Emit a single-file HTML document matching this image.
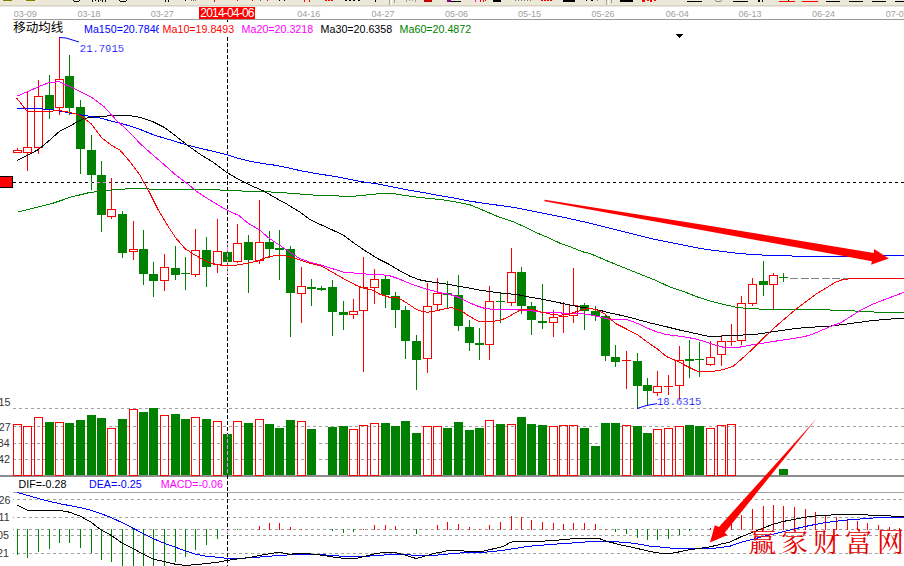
<!DOCTYPE html>
<html><head><meta charset="utf-8"><title>chart</title>
<style>html,body{margin:0;padding:0;background:#fff;}body{width:904px;height:566px;overflow:hidden;position:relative;font-family:"Liberation Sans",sans-serif;}svg{position:absolute;left:0;top:0;display:block}.t{position:absolute;white-space:nowrap;line-height:1;}.d{font-size:9px;color:#a0a0a0;top:9.5px}.m{font-size:10.7px;top:23.5px;overflow:hidden;}.k{font-size:10.7px;top:479px}.p{font-family:"Liberation Mono",monospace;font-size:10.55px;color:#0000ff;transform:scaleY(1.06);transform-origin:0 50%;-webkit-text-stroke:0.15px #fff}.a{font-size:10.7px;color:#333;left:0}</style></head><body>
<svg width="904" height="566" viewBox="0 0 904 566">
<rect x="0" y="0" width="904" height="5" fill="#ece9d8"/>
<rect x="0" y="5" width="904" height="1.5" fill="#d6d2c2"/>
<g shape-rendering="crispEdges">
<rect x="13" y="19" width="891" height="1" fill="#9a9a9a"/>
<line x1="13" y1="408.5" x2="904" y2="408.5" stroke="#a0a0a0" stroke-width="1" stroke-dasharray="3 3"/>
<line x1="13" y1="426.5" x2="904" y2="426.5" stroke="#a0a0a0" stroke-width="1" stroke-dasharray="3 3"/>
<line x1="13" y1="443.5" x2="904" y2="443.5" stroke="#a0a0a0" stroke-width="1" stroke-dasharray="3 3"/>
<line x1="13" y1="459.5" x2="904" y2="459.5" stroke="#a0a0a0" stroke-width="1" stroke-dasharray="3 3"/>
<line x1="13" y1="499.5" x2="904" y2="499.5" stroke="#a0a0a0" stroke-width="1" stroke-dasharray="3 3" stroke-dashoffset="2"/>
<line x1="13" y1="517.5" x2="904" y2="517.5" stroke="#a0a0a0" stroke-width="1" stroke-dasharray="3 3" stroke-dashoffset="2"/>
<line x1="13" y1="529.5" x2="904" y2="529.5" stroke="#a0a0a0" stroke-width="1" stroke-dasharray="3 3" stroke-dashoffset="2"/>
<line x1="13" y1="535.5" x2="904" y2="535.5" stroke="#a0a0a0" stroke-width="1" stroke-dasharray="3 3" stroke-dashoffset="2"/>
<line x1="13" y1="553.5" x2="904" y2="553.5" stroke="#a0a0a0" stroke-width="1" stroke-dasharray="3 3" stroke-dashoffset="2"/>
<rect x="0" y="475" width="904" height="2" fill="#8c8c8c"/>
<rect x="13" y="492" width="891" height="1" fill="#a0a0a0"/>
<line x1="13" y1="182.5" x2="904" y2="182.5" stroke="#000" stroke-width="1" stroke-dasharray="3 3"/>
<rect x="-1.5" y="176.5" width="14" height="11" fill="#ff0000" stroke="#000" stroke-width="1"/>
<rect x="199" y="7" width="56" height="12" fill="#ff0000"/>
<rect x="13.5" y="424.5" width="8" height="51" fill="none" stroke="#ff0000" stroke-width="1"/>
<rect x="23.5" y="426.5" width="8" height="49" fill="none" stroke="#ff0000" stroke-width="1"/>
<rect x="34.5" y="417.5" width="8" height="58" fill="none" stroke="#ff0000" stroke-width="1"/>
<rect x="45" y="422" width="9" height="53" fill="#008000"/>
<rect x="55.5" y="422.5" width="8" height="53" fill="none" stroke="#ff0000" stroke-width="1"/>
<rect x="65" y="423" width="9" height="52" fill="#008000"/>
<rect x="76" y="420" width="9" height="55" fill="#008000"/>
<rect x="87" y="415" width="9" height="60" fill="#008000"/>
<rect x="97" y="418" width="9" height="57" fill="#008000"/>
<rect x="107.5" y="428.5" width="8" height="47" fill="none" stroke="#ff0000" stroke-width="1"/>
<rect x="118" y="419" width="9" height="56" fill="#008000"/>
<rect x="129.5" y="409.5" width="8" height="66" fill="none" stroke="#ff0000" stroke-width="1"/>
<rect x="139" y="412" width="9" height="63" fill="#008000"/>
<rect x="149" y="408" width="9" height="67" fill="#008000"/>
<rect x="160.5" y="415.5" width="8" height="60" fill="none" stroke="#ff0000" stroke-width="1"/>
<rect x="171" y="414" width="9" height="61" fill="#008000"/>
<rect x="181" y="419" width="9" height="56" fill="#008000"/>
<rect x="191.5" y="417.5" width="8" height="58" fill="none" stroke="#ff0000" stroke-width="1"/>
<rect x="202" y="419" width="9" height="56" fill="#008000"/>
<rect x="213.5" y="421.5" width="8" height="54" fill="none" stroke="#ff0000" stroke-width="1"/>
<rect x="223" y="434" width="9" height="41" fill="#008000"/>
<rect x="233.5" y="421.5" width="8" height="54" fill="none" stroke="#ff0000" stroke-width="1"/>
<rect x="244" y="423" width="9" height="52" fill="#008000"/>
<rect x="255.5" y="419.5" width="8" height="56" fill="none" stroke="#ff0000" stroke-width="1"/>
<rect x="265" y="424" width="9" height="51" fill="#008000"/>
<rect x="275" y="428" width="9" height="47" fill="#008000"/>
<rect x="286" y="420" width="9" height="55" fill="#008000"/>
<rect x="297.5" y="421.5" width="8" height="54" fill="none" stroke="#ff0000" stroke-width="1"/>
<rect x="307" y="429" width="9" height="46" fill="#008000"/>
<rect x="328" y="427" width="9" height="48" fill="#008000"/>
<rect x="339" y="426" width="9" height="49" fill="#008000"/>
<rect x="349.5" y="429.5" width="8" height="46" fill="none" stroke="#ff0000" stroke-width="1"/>
<rect x="359.5" y="425.5" width="8" height="50" fill="none" stroke="#ff0000" stroke-width="1"/>
<rect x="370.5" y="423.5" width="8" height="52" fill="none" stroke="#ff0000" stroke-width="1"/>
<rect x="381" y="423" width="9" height="52" fill="#008000"/>
<rect x="391" y="426" width="9" height="49" fill="#008000"/>
<rect x="401" y="421" width="9" height="54" fill="#008000"/>
<rect x="412" y="433" width="9" height="42" fill="#008000"/>
<rect x="423.5" y="426.5" width="8" height="49" fill="none" stroke="#ff0000" stroke-width="1"/>
<rect x="433.5" y="426.5" width="8" height="49" fill="none" stroke="#ff0000" stroke-width="1"/>
<rect x="443" y="428" width="9" height="47" fill="#008000"/>
<rect x="454" y="422" width="9" height="53" fill="#008000"/>
<rect x="465" y="430" width="9" height="45" fill="#008000"/>
<rect x="475" y="428" width="9" height="47" fill="#008000"/>
<rect x="485.5" y="420.5" width="8" height="55" fill="none" stroke="#ff0000" stroke-width="1"/>
<rect x="496" y="424" width="9" height="51" fill="#008000"/>
<rect x="507.5" y="424.5" width="8" height="51" fill="none" stroke="#ff0000" stroke-width="1"/>
<rect x="517" y="417" width="9" height="58" fill="#008000"/>
<rect x="527" y="424" width="9" height="51" fill="#008000"/>
<rect x="538" y="425" width="9" height="50" fill="#008000"/>
<rect x="549.5" y="426.5" width="8" height="49" fill="none" stroke="#ff0000" stroke-width="1"/>
<rect x="559.5" y="425.5" width="8" height="50" fill="none" stroke="#ff0000" stroke-width="1"/>
<rect x="569.5" y="425.5" width="8" height="50" fill="none" stroke="#ff0000" stroke-width="1"/>
<rect x="580" y="428" width="9" height="47" fill="#008000"/>
<rect x="591" y="446" width="9" height="29" fill="#008000"/>
<rect x="601" y="423" width="9" height="52" fill="#008000"/>
<rect x="611" y="423" width="9" height="52" fill="#008000"/>
<rect x="622.5" y="425.5" width="8" height="50" fill="none" stroke="#ff0000" stroke-width="1"/>
<rect x="633" y="426" width="9" height="49" fill="#008000"/>
<rect x="643" y="433" width="9" height="42" fill="#008000"/>
<rect x="653.5" y="429.5" width="8" height="46" fill="none" stroke="#ff0000" stroke-width="1"/>
<rect x="664.5" y="428.5" width="8" height="47" fill="none" stroke="#ff0000" stroke-width="1"/>
<rect x="675.5" y="426.5" width="8" height="49" fill="none" stroke="#ff0000" stroke-width="1"/>
<rect x="685" y="425" width="9" height="50" fill="#008000"/>
<rect x="695" y="426" width="9" height="49" fill="#008000"/>
<rect x="706.5" y="428.5" width="8" height="47" fill="none" stroke="#ff0000" stroke-width="1"/>
<rect x="717.5" y="425.5" width="8" height="50" fill="none" stroke="#ff0000" stroke-width="1"/>
<rect x="727.5" y="424.5" width="8" height="51" fill="none" stroke="#ff0000" stroke-width="1"/>
<rect x="779" y="469" width="9" height="6" fill="#008000"/>
<rect x="17" y="529" width="1" height="26" fill="#008000"/>
<rect x="27" y="529" width="1" height="29" fill="#008000"/>
<rect x="38" y="529" width="1" height="23" fill="#008000"/>
<rect x="49" y="529" width="1" height="20" fill="#008000"/>
<rect x="59" y="529" width="1" height="14" fill="#008000"/>
<rect x="69" y="529" width="1" height="14" fill="#008000"/>
<rect x="80" y="529" width="1" height="19" fill="#008000"/>
<rect x="91" y="529" width="1" height="24" fill="#008000"/>
<rect x="101" y="529" width="1" height="31" fill="#008000"/>
<rect x="111" y="529" width="1" height="33" fill="#008000"/>
<rect x="122" y="529" width="1" height="37" fill="#008000"/>
<rect x="133" y="529" width="1" height="37" fill="#008000"/>
<rect x="143" y="529" width="1" height="37" fill="#008000"/>
<rect x="153" y="529" width="1" height="37" fill="#008000"/>
<rect x="164" y="529" width="1" height="37" fill="#008000"/>
<rect x="175" y="529" width="1" height="33" fill="#008000"/>
<rect x="185" y="529" width="1" height="28" fill="#008000"/>
<rect x="195" y="529" width="1" height="21" fill="#008000"/>
<rect x="206" y="529" width="1" height="16" fill="#008000"/>
<rect x="217" y="529" width="1" height="10" fill="#008000"/>
<rect x="227" y="529" width="1" height="5" fill="#008000"/>
<rect x="237" y="529" width="1" height="1" fill="#008000"/>
<rect x="259" y="526" width="1" height="4" fill="#ff0000"/>
<rect x="269" y="523" width="1" height="7" fill="#ff0000"/>
<rect x="279" y="523" width="1" height="7" fill="#ff0000"/>
<rect x="290" y="527" width="1" height="3" fill="#ff0000"/>
<rect x="301" y="529" width="1" height="1" fill="#ff0000"/>
<rect x="332" y="529" width="1" height="2" fill="#008000"/>
<rect x="343" y="529" width="1" height="4" fill="#008000"/>
<rect x="353" y="529" width="1" height="3" fill="#008000"/>
<rect x="363" y="529" width="1" height="1" fill="#ff0000"/>
<rect x="374" y="525" width="1" height="5" fill="#ff0000"/>
<rect x="385" y="525" width="1" height="5" fill="#ff0000"/>
<rect x="395" y="526" width="1" height="4" fill="#ff0000"/>
<rect x="416" y="529" width="1" height="5" fill="#008000"/>
<rect x="437" y="525" width="1" height="5" fill="#ff0000"/>
<rect x="447" y="522" width="1" height="8" fill="#ff0000"/>
<rect x="458" y="524" width="1" height="6" fill="#ff0000"/>
<rect x="469" y="527" width="1" height="3" fill="#ff0000"/>
<rect x="479" y="529" width="1" height="1" fill="#ff0000"/>
<rect x="489" y="525" width="1" height="5" fill="#ff0000"/>
<rect x="500" y="522" width="1" height="8" fill="#ff0000"/>
<rect x="511" y="516" width="1" height="14" fill="#ff0000"/>
<rect x="521" y="517" width="1" height="13" fill="#ff0000"/>
<rect x="531" y="520" width="1" height="10" fill="#ff0000"/>
<rect x="542" y="522" width="1" height="8" fill="#ff0000"/>
<rect x="553" y="523" width="1" height="7" fill="#ff0000"/>
<rect x="563" y="524" width="1" height="6" fill="#ff0000"/>
<rect x="573" y="523" width="1" height="7" fill="#ff0000"/>
<rect x="584" y="523" width="1" height="7" fill="#ff0000"/>
<rect x="595" y="524" width="1" height="6" fill="#ff0000"/>
<rect x="605" y="529" width="1" height="1" fill="#ff0000"/>
<rect x="615" y="529" width="1" height="3" fill="#008000"/>
<rect x="626" y="529" width="1" height="5" fill="#008000"/>
<rect x="637" y="529" width="1" height="9" fill="#008000"/>
<rect x="647" y="529" width="1" height="11" fill="#008000"/>
<rect x="657" y="529" width="1" height="11" fill="#008000"/>
<rect x="668" y="529" width="1" height="10" fill="#008000"/>
<rect x="679" y="529" width="1" height="6" fill="#008000"/>
<rect x="689" y="529" width="1" height="2" fill="#008000"/>
<rect x="710" y="528" width="1" height="2" fill="#ff0000"/>
<rect x="721" y="524" width="1" height="6" fill="#ff0000"/>
<rect x="731" y="520" width="1" height="10" fill="#ff0000"/>
<rect x="741" y="515" width="1" height="15" fill="#ff0000"/>
<rect x="752" y="509" width="1" height="21" fill="#ff0000"/>
<rect x="763" y="506" width="1" height="24" fill="#ff0000"/>
<rect x="773" y="505" width="1" height="25" fill="#ff0000"/>
<rect x="783" y="506" width="1" height="24" fill="#ff0000"/>
<rect x="794" y="507" width="1" height="23" fill="#ff0000"/>
<rect x="805" y="509" width="1" height="21" fill="#ff0000"/>
<rect x="815" y="512" width="1" height="18" fill="#ff0000"/>
<rect x="825" y="515" width="1" height="15" fill="#ff0000"/>
<rect x="836" y="517" width="1" height="13" fill="#ff0000"/>
<rect x="847" y="519" width="1" height="11" fill="#ff0000"/>
<rect x="857" y="521" width="1" height="9" fill="#ff0000"/>
<rect x="867" y="523" width="1" height="7" fill="#ff0000"/>
<rect x="878" y="525" width="1" height="5" fill="#ff0000"/>
<rect x="889" y="527" width="1" height="3" fill="#ff0000"/>
<rect x="899" y="528" width="1" height="2" fill="#ff0000"/>
</g>
<g shape-rendering="crispEdges">
<rect x="17" y="148" width="1" height="2" fill="#ff0000"/>
<rect x="13.5" y="150.5" width="8" height="2" fill="#fff" stroke="#ff0000" stroke-width="1"/>
<rect x="27" y="92" width="1" height="55" fill="#ff0000"/>
<rect x="27" y="153" width="1" height="18" fill="#ff0000"/>
<rect x="23.5" y="147.5" width="8" height="5" fill="#fff" stroke="#ff0000" stroke-width="1"/>
<rect x="38" y="80" width="1" height="16" fill="#ff0000"/>
<rect x="38" y="148" width="1" height="6" fill="#ff0000"/>
<rect x="34.5" y="96.5" width="8" height="51" fill="#fff" stroke="#ff0000" stroke-width="1"/>
<rect x="49" y="75" width="1" height="44" fill="#008000"/>
<rect x="45" y="95" width="9" height="15" fill="#008000"/>
<rect x="59" y="37" width="1" height="42" fill="#ff0000"/>
<rect x="59" y="108" width="1" height="7" fill="#ff0000"/>
<rect x="55.5" y="79.5" width="8" height="28" fill="#fff" stroke="#ff0000" stroke-width="1"/>
<rect x="69" y="55" width="1" height="60" fill="#008000"/>
<rect x="65" y="76" width="9" height="32" fill="#008000"/>
<rect x="80" y="100" width="1" height="74" fill="#008000"/>
<rect x="76" y="107" width="9" height="42" fill="#008000"/>
<rect x="91" y="135" width="1" height="55" fill="#008000"/>
<rect x="87" y="150" width="9" height="25" fill="#008000"/>
<rect x="101" y="161" width="1" height="71" fill="#008000"/>
<rect x="97" y="175" width="9" height="40" fill="#008000"/>
<rect x="111" y="178" width="1" height="31" fill="#ff0000"/>
<rect x="111" y="217" width="1" height="2" fill="#ff0000"/>
<rect x="107.5" y="209.5" width="8" height="7" fill="#fff" stroke="#ff0000" stroke-width="1"/>
<rect x="122" y="211" width="1" height="47" fill="#008000"/>
<rect x="118" y="214" width="9" height="39" fill="#008000"/>
<rect x="133" y="221" width="1" height="28" fill="#ff0000"/>
<rect x="133" y="252" width="1" height="8" fill="#ff0000"/>
<rect x="129.5" y="249.5" width="8" height="2" fill="#fff" stroke="#ff0000" stroke-width="1"/>
<rect x="143" y="230" width="1" height="55" fill="#008000"/>
<rect x="139" y="249" width="9" height="25" fill="#008000"/>
<rect x="153" y="262" width="1" height="35" fill="#008000"/>
<rect x="149" y="274" width="9" height="7" fill="#008000"/>
<rect x="164" y="254" width="1" height="13" fill="#ff0000"/>
<rect x="164" y="281" width="1" height="10" fill="#ff0000"/>
<rect x="160.5" y="267.5" width="8" height="13" fill="#fff" stroke="#ff0000" stroke-width="1"/>
<rect x="175" y="246" width="1" height="34" fill="#008000"/>
<rect x="171" y="268" width="9" height="7" fill="#008000"/>
<rect x="185" y="257" width="1" height="33" fill="#008000"/>
<rect x="181" y="273" width="9" height="1" fill="#008000"/>
<rect x="195" y="229" width="1" height="21" fill="#ff0000"/>
<rect x="195" y="275" width="1" height="2" fill="#ff0000"/>
<rect x="191.5" y="250.5" width="8" height="24" fill="#fff" stroke="#ff0000" stroke-width="1"/>
<rect x="206" y="237" width="1" height="50" fill="#008000"/>
<rect x="202" y="250" width="9" height="17" fill="#008000"/>
<rect x="217" y="219" width="1" height="32" fill="#ff0000"/>
<rect x="217" y="265" width="1" height="8" fill="#ff0000"/>
<rect x="213.5" y="251.5" width="8" height="13" fill="#fff" stroke="#ff0000" stroke-width="1"/>
<rect x="227" y="243" width="1" height="31" fill="#008000"/>
<rect x="223" y="252" width="9" height="10" fill="#008000"/>
<rect x="237" y="224" width="1" height="19" fill="#ff0000"/>
<rect x="237" y="262" width="1" height="1" fill="#ff0000"/>
<rect x="233.5" y="243.5" width="8" height="18" fill="#fff" stroke="#ff0000" stroke-width="1"/>
<rect x="248" y="235" width="1" height="58" fill="#008000"/>
<rect x="244" y="242" width="9" height="18" fill="#008000"/>
<rect x="259" y="200" width="1" height="42" fill="#ff0000"/>
<rect x="259" y="261" width="1" height="3" fill="#ff0000"/>
<rect x="255.5" y="242.5" width="8" height="18" fill="#fff" stroke="#ff0000" stroke-width="1"/>
<rect x="269" y="231" width="1" height="27" fill="#008000"/>
<rect x="265" y="242" width="9" height="7" fill="#008000"/>
<rect x="279" y="230" width="1" height="50" fill="#008000"/>
<rect x="275" y="248" width="9" height="2" fill="#008000"/>
<rect x="290" y="246" width="1" height="91" fill="#008000"/>
<rect x="286" y="249" width="9" height="44" fill="#008000"/>
<rect x="301" y="267" width="1" height="19" fill="#ff0000"/>
<rect x="301" y="294" width="1" height="29" fill="#ff0000"/>
<rect x="297.5" y="286.5" width="8" height="7" fill="#fff" stroke="#ff0000" stroke-width="1"/>
<rect x="311" y="279" width="1" height="27" fill="#008000"/>
<rect x="307" y="287" width="9" height="2" fill="#008000"/>
<rect x="321" y="286" width="1" height="5" fill="#008000"/>
<rect x="317" y="288" width="9" height="2" fill="#008000"/>
<rect x="332" y="280" width="1" height="56" fill="#008000"/>
<rect x="328" y="287" width="9" height="25" fill="#008000"/>
<rect x="343" y="301" width="1" height="29" fill="#008000"/>
<rect x="339" y="312" width="9" height="3" fill="#008000"/>
<rect x="353" y="299" width="1" height="12" fill="#ff0000"/>
<rect x="353" y="315" width="1" height="4" fill="#ff0000"/>
<rect x="349.5" y="311.5" width="8" height="3" fill="#fff" stroke="#ff0000" stroke-width="1"/>
<rect x="363" y="257" width="1" height="30" fill="#ff0000"/>
<rect x="363" y="311" width="1" height="61" fill="#ff0000"/>
<rect x="359.5" y="287.5" width="8" height="23" fill="#fff" stroke="#ff0000" stroke-width="1"/>
<rect x="374" y="269" width="1" height="10" fill="#ff0000"/>
<rect x="374" y="288" width="1" height="16" fill="#ff0000"/>
<rect x="370.5" y="279.5" width="8" height="8" fill="#fff" stroke="#ff0000" stroke-width="1"/>
<rect x="385" y="276" width="1" height="32" fill="#008000"/>
<rect x="381" y="279" width="9" height="16" fill="#008000"/>
<rect x="395" y="292" width="1" height="36" fill="#008000"/>
<rect x="391" y="296" width="9" height="14" fill="#008000"/>
<rect x="405" y="306" width="1" height="53" fill="#008000"/>
<rect x="401" y="310" width="9" height="31" fill="#008000"/>
<rect x="416" y="335" width="1" height="55" fill="#008000"/>
<rect x="412" y="341" width="9" height="19" fill="#008000"/>
<rect x="427" y="283" width="1" height="23" fill="#ff0000"/>
<rect x="427" y="359" width="1" height="14" fill="#ff0000"/>
<rect x="423.5" y="306.5" width="8" height="52" fill="#fff" stroke="#ff0000" stroke-width="1"/>
<rect x="437" y="278" width="1" height="15" fill="#ff0000"/>
<rect x="437" y="305" width="1" height="6" fill="#ff0000"/>
<rect x="433.5" y="293.5" width="8" height="11" fill="#fff" stroke="#ff0000" stroke-width="1"/>
<rect x="447" y="281" width="1" height="28" fill="#008000"/>
<rect x="443" y="293" width="9" height="2" fill="#008000"/>
<rect x="458" y="275" width="1" height="56" fill="#008000"/>
<rect x="454" y="295" width="9" height="31" fill="#008000"/>
<rect x="469" y="320" width="1" height="31" fill="#008000"/>
<rect x="465" y="327" width="9" height="16" fill="#008000"/>
<rect x="479" y="328" width="1" height="32" fill="#008000"/>
<rect x="475" y="343" width="9" height="2" fill="#008000"/>
<rect x="489" y="286" width="1" height="15" fill="#ff0000"/>
<rect x="489" y="345" width="1" height="15" fill="#ff0000"/>
<rect x="485.5" y="301.5" width="8" height="43" fill="#fff" stroke="#ff0000" stroke-width="1"/>
<rect x="500" y="292" width="1" height="31" fill="#008000"/>
<rect x="496" y="301" width="9" height="1" fill="#008000"/>
<rect x="511" y="248" width="1" height="24" fill="#ff0000"/>
<rect x="511" y="303" width="1" height="3" fill="#ff0000"/>
<rect x="507.5" y="272.5" width="8" height="30" fill="#fff" stroke="#ff0000" stroke-width="1"/>
<rect x="521" y="267" width="1" height="47" fill="#008000"/>
<rect x="517" y="272" width="9" height="34" fill="#008000"/>
<rect x="531" y="302" width="1" height="33" fill="#008000"/>
<rect x="527" y="306" width="9" height="14" fill="#008000"/>
<rect x="542" y="284" width="1" height="45" fill="#008000"/>
<rect x="538" y="321" width="9" height="2" fill="#008000"/>
<rect x="553" y="310" width="1" height="7" fill="#ff0000"/>
<rect x="553" y="323" width="1" height="14" fill="#ff0000"/>
<rect x="549.5" y="317.5" width="8" height="5" fill="#fff" stroke="#ff0000" stroke-width="1"/>
<rect x="563" y="302" width="1" height="14" fill="#ff0000"/>
<rect x="563" y="317" width="1" height="16" fill="#ff0000"/>
<rect x="559" y="316" width="9" height="1" fill="#ff0000"/>
<rect x="573" y="268" width="1" height="37" fill="#ff0000"/>
<rect x="573" y="316" width="1" height="7" fill="#ff0000"/>
<rect x="569.5" y="305.5" width="8" height="10" fill="#fff" stroke="#ff0000" stroke-width="1"/>
<rect x="584" y="303" width="1" height="27" fill="#008000"/>
<rect x="580" y="305" width="9" height="6" fill="#008000"/>
<rect x="595" y="306" width="1" height="15" fill="#008000"/>
<rect x="591" y="311" width="9" height="5" fill="#008000"/>
<rect x="605" y="314" width="1" height="47" fill="#008000"/>
<rect x="601" y="316" width="9" height="40" fill="#008000"/>
<rect x="615" y="345" width="1" height="22" fill="#008000"/>
<rect x="611" y="357" width="9" height="5" fill="#008000"/>
<rect x="626" y="351" width="1" height="9" fill="#ff0000"/>
<rect x="626" y="360" width="1" height="29" fill="#ff0000"/>
<rect x="622" y="360" width="9" height="1" fill="#ff0000"/>
<rect x="637" y="353" width="1" height="56" fill="#008000"/>
<rect x="633" y="361" width="9" height="25" fill="#008000"/>
<rect x="647" y="378" width="1" height="28" fill="#008000"/>
<rect x="643" y="385" width="9" height="6" fill="#008000"/>
<rect x="657" y="371" width="1" height="15" fill="#ff0000"/>
<rect x="657" y="393" width="1" height="3" fill="#ff0000"/>
<rect x="653.5" y="386.5" width="8" height="6" fill="#fff" stroke="#ff0000" stroke-width="1"/>
<rect x="668" y="375" width="1" height="11" fill="#ff0000"/>
<rect x="668" y="386" width="1" height="9" fill="#ff0000"/>
<rect x="664" y="386" width="9" height="1" fill="#ff0000"/>
<rect x="679" y="346" width="1" height="14" fill="#ff0000"/>
<rect x="679" y="386" width="1" height="15" fill="#ff0000"/>
<rect x="675.5" y="360.5" width="8" height="25" fill="#fff" stroke="#ff0000" stroke-width="1"/>
<rect x="689" y="340" width="1" height="38" fill="#008000"/>
<rect x="685" y="359" width="9" height="2" fill="#008000"/>
<rect x="699" y="342" width="1" height="35" fill="#008000"/>
<rect x="695" y="359" width="9" height="1" fill="#008000"/>
<rect x="710" y="341" width="1" height="16" fill="#ff0000"/>
<rect x="710" y="365" width="1" height="1" fill="#ff0000"/>
<rect x="706.5" y="357.5" width="8" height="7" fill="#fff" stroke="#ff0000" stroke-width="1"/>
<rect x="721" y="335" width="1" height="6" fill="#ff0000"/>
<rect x="721" y="355" width="1" height="11" fill="#ff0000"/>
<rect x="717.5" y="341.5" width="8" height="13" fill="#fff" stroke="#ff0000" stroke-width="1"/>
<rect x="731" y="324" width="1" height="17" fill="#ff0000"/>
<rect x="731" y="342" width="1" height="4" fill="#ff0000"/>
<rect x="727" y="341" width="9" height="1" fill="#ff0000"/>
<rect x="741" y="296" width="1" height="7" fill="#ff0000"/>
<rect x="741" y="341" width="1" height="4" fill="#ff0000"/>
<rect x="737.5" y="303.5" width="8" height="37" fill="#fff" stroke="#ff0000" stroke-width="1"/>
<rect x="752" y="278" width="1" height="6" fill="#ff0000"/>
<rect x="752" y="304" width="1" height="2" fill="#ff0000"/>
<rect x="748.5" y="284.5" width="8" height="19" fill="#fff" stroke="#ff0000" stroke-width="1"/>
<rect x="763" y="261" width="1" height="35" fill="#008000"/>
<rect x="759" y="281" width="9" height="4" fill="#008000"/>
<rect x="773" y="273" width="1" height="2" fill="#ff0000"/>
<rect x="773" y="285" width="1" height="24" fill="#ff0000"/>
<rect x="769.5" y="275.5" width="8" height="9" fill="#fff" stroke="#ff0000" stroke-width="1"/>
<rect x="783" y="273" width="1" height="9" fill="#008000"/>
<rect x="779" y="277" width="9" height="1" fill="#008000"/>
</g>
<defs><clipPath id="cg"><rect x="223" y="252" width="9" height="10"/><rect x="227" y="243" width="1" height="31"/><rect x="223" y="434" width="9" height="41"/><rect x="227" y="530" width="1" height="4"/></clipPath><clipPath id="ch"><rect x="97" y="182" width="9" height="1"/><rect x="91" y="182" width="1" height="1"/></clipPath></defs>
<g shape-rendering="crispEdges"><line x1="227.5" y1="20" x2="227.5" y2="566" stroke="#000" stroke-width="1" stroke-dasharray="3.5 2.5" stroke-dashoffset="1"/>
<line x1="13" y1="182.5" x2="904" y2="182.5" stroke="#ff80ff" stroke-width="1" stroke-dasharray="3 3" clip-path="url(#ch)"/>
<line x1="227.5" y1="20" x2="227.5" y2="566" stroke="#ff80ff" stroke-width="1" stroke-dasharray="3.5 2.5" stroke-dashoffset="1" clip-path="url(#cg)"/></g>
<rect x="227" y="22" width="1" height="14.6" fill="#fff"/>
<line x1="790" y1="278.5" x2="852" y2="278.5" stroke="#808080" stroke-width="1" stroke-dasharray="8 2.5" shape-rendering="crispEdges"/>
<polyline points="17.5,212.2 35.0,207.8 53.0,203.2 70.7,197.2 88.3,192.8 97.2,191.6 110.0,190.2 130.0,188.6 158.0,189.2 176.0,189.5 200.0,189.5 227.0,190.2 245.0,191.2 263.0,191.6 281.0,192.5 305.0,194.4 320.0,195.6 335.0,195.8 350.0,196.5 359.0,195.8 371.0,194.4 383.0,193.5 395.0,193.8 407.0,195.8 419.0,197.4 431.0,198.6 443.0,199.8 455.0,201.8 470.0,204.8 479.0,208.5 488.0,212.4 500.0,217.5 512.0,221.2 524.0,226.5 536.0,232.5 548.0,237.6 560.0,243.2 572.0,247.5 584.0,252.2 590.0,253.5 606.0,260.4 621.8,266.8 637.7,273.2 653.6,279.5 669.5,286.8 685.4,292.2 698.0,297.2 710.9,301.2 723.6,304.4 736.3,307.2 750.0,308.8 766.5,309.2 793.0,309.2 819.5,309.8 846.0,310.3 859.0,311.3 883.0,312.4 904.0,312.4" fill="none" stroke="#008000" stroke-width="1" stroke-linejoin="round" shape-rendering="crispEdges"/>
<polyline points="16.8,108.2 49.5,109.2 80.0,114.8 99.0,117.8 125.0,124.5 140.0,129.4 155.0,135.4 170.0,139.8 185.0,144.4 200.0,148.2 215.0,151.8 227.0,154.8 239.0,158.5 251.0,161.5 263.0,163.6 275.0,165.2 287.0,167.5 300.0,170.6 320.0,174.2 335.0,176.4 350.0,179.4 362.0,181.8 377.0,183.8 392.0,186.8 407.0,189.8 422.0,192.3 437.0,195.2 455.0,198.2 470.0,201.2 485.0,203.4 500.0,205.5 515.0,207.6 530.0,210.6 545.0,213.6 560.0,216.6 575.0,219.8 590.0,223.2 606.0,227.2 621.8,231.2 637.7,235.2 653.6,239.2 669.5,242.3 685.4,245.5 701.3,248.7 717.2,250.8 733.0,252.8 750.0,254.4 766.5,255.2 779.7,255.7 811.5,256.5 846.0,256.5 883.0,255.7 904.0,255.7" fill="none" stroke="#0000ff" stroke-width="1" stroke-linejoin="round" shape-rendering="crispEdges"/>
<polyline points="17.0,160.5 27.2,155.5 38.4,149.5 49.5,140.2 59.4,131.5 63.6,129.3 69.5,126.2 74.2,123.6 80.4,120.2 84.8,118.3 91.6,117.2 104.0,116.2 116.3,115.3 128.7,115.5 140.0,117.4 152.0,121.2 164.0,127.2 176.0,136.2 188.0,145.6 200.0,154.2 212.0,161.5 227.0,172.6 239.0,179.6 251.0,185.6 263.0,190.7 275.0,197.6 287.0,204.2 299.0,211.5 311.0,220.2 323.0,225.7 335.0,231.2 344.0,235.6 353.0,242.5 365.0,250.6 377.0,258.2 389.0,264.2 401.0,271.6 410.0,276.2 419.0,279.7 428.0,281.5 440.0,283.2 449.0,284.5 458.0,286.2 470.0,288.2 482.0,290.5 494.0,292.2 506.0,293.5 518.0,294.7 530.0,297.2 542.0,299.2 554.0,301.6 566.0,304.2 578.0,306.7 590.0,308.5 599.5,310.2 608.8,312.7 623.1,315.8 637.5,319.5 651.9,323.4 666.3,326.7 680.7,330.3 695.0,333.4 707.7,336.2 717.2,336.2 726.8,335.8 736.3,335.2 753.0,334.7 766.5,332.8 779.7,330.7 793.0,328.8 808.9,327.2 824.8,326.7 840.7,324.8 856.6,322.7 872.5,320.6 888.4,319.2 904.0,318.2" fill="none" stroke="#000" stroke-width="1" stroke-linejoin="round" shape-rendering="crispEdges"/>
<polyline points="16.8,96.2 27.2,91.8 38.4,86.8 49.5,82.4 59.4,81.8 69.5,86.3 80.4,91.8 91.6,97.2 104.0,106.6 116.3,120.2 128.7,131.4 140.0,143.5 152.0,154.2 164.0,164.5 176.0,175.2 188.0,184.2 197.0,191.6 206.0,197.6 215.0,203.2 227.0,210.2 239.0,215.6 248.0,223.2 260.0,230.2 269.0,238.2 278.0,244.2 287.0,250.2 299.0,258.2 311.0,262.6 323.0,265.6 335.0,269.5 344.0,272.2 356.0,273.2 368.0,274.2 380.0,274.6 389.0,275.5 398.0,278.5 410.0,283.6 419.0,286.6 428.0,289.6 440.0,292.6 449.0,294.2 458.0,297.2 467.0,301.6 476.0,305.5 485.0,308.5 494.0,309.4 506.0,309.7 518.0,309.7 530.0,310.6 542.0,312.2 554.0,312.7 566.0,313.2 578.0,313.3 590.0,314.8 594.4,315.6 604.4,318.2 610.2,319.5 627.5,319.8 637.5,323.4 647.6,328.2 656.2,331.7 666.3,334.6 680.7,336.3 695.0,338.8 704.5,341.5 714.0,344.7 723.6,347.3 730.0,347.8 739.5,347.2 753.0,344.7 766.5,342.6 779.7,340.5 793.0,338.6 803.6,336.8 811.5,334.7 819.5,331.2 830.0,326.7 840.7,322.7 851.3,316.2 861.9,309.5 872.5,304.2 883.0,300.2 893.7,296.2 904.0,292.3" fill="none" stroke="#ff00ff" stroke-width="1" stroke-linejoin="round" shape-rendering="crispEdges"/>
<polyline points="16.8,98.2 27.2,111.5 38.4,111.3 49.5,111.2 59.4,110.6 69.5,112.3 80.4,115.3 91.6,124.2 101.5,137.6 111.4,145.2 120.0,150.2 128.7,160.2 140.0,175.2 149.0,191.6 158.0,209.6 167.0,224.6 176.0,238.2 185.0,248.6 194.0,254.5 200.0,257.8 206.0,261.2 212.0,263.5 221.0,265.2 230.0,265.8 239.0,264.8 248.0,263.2 257.0,261.2 266.0,257.6 275.0,255.5 284.0,255.5 293.0,257.6 299.0,259.6 311.0,263.5 320.0,265.6 329.0,270.2 338.0,275.5 347.0,280.6 356.0,285.2 363.5,288.2 371.0,289.6 380.0,294.2 389.0,297.2 398.0,297.7 407.0,303.2 416.0,309.2 422.0,311.5 428.0,312.2 437.0,310.6 446.0,308.5 452.0,307.6 461.0,310.6 470.0,316.6 479.0,321.7 488.0,321.7 500.0,320.5 509.0,316.6 518.0,311.2 524.0,309.2 533.0,309.7 542.0,312.2 551.0,314.2 560.0,315.2 569.0,314.2 578.0,311.2 587.0,308.6 592.0,308.6 597.3,310.2 604.4,313.7 610.2,318.8 616.0,323.8 626.0,328.8 637.5,334.6 646.1,341.2 657.7,349.2 666.3,356.5 675.9,360.6 685.4,365.4 695.0,370.2 699.7,371.8 707.7,371.8 717.2,370.8 726.8,368.6 733.0,366.3 740.0,360.4 748.0,353.2 755.9,345.8 766.5,335.2 777.0,325.4 787.7,316.2 795.6,309.5 806.2,301.5 816.8,293.6 827.4,287.2 835.4,282.2 842.0,279.8 847.0,279.2 852.0,278.5 904.0,278.5" fill="none" stroke="#ff0000" stroke-width="1" stroke-linejoin="round" shape-rendering="crispEdges"/>
<polyline points="17.3,492.4 27.5,495.4 38.4,498.5 49.4,501.3 59.3,503.6 69.5,505.6 80.4,507.7 91.0,510.2 101.5,513.8 111.7,517.8 122.4,522.8 133.6,528.5 143.3,533.6 153.4,538.7 164.4,543.3 175.3,547.2 185.2,550.8 195.4,554.2 206.4,556.2 217.6,557.3 227.2,558.3 235.0,558.5 250.5,557.8 265.8,556.5 281.0,555.2 296.0,554.7 321.8,554.7 334.5,555.7 347.0,556.5 362.5,556.5 377.8,555.5 393.0,554.2 405.8,554.5 418.5,555.7 431.0,555.7 441.4,554.7 452.7,553.5 465.4,552.7 478.2,552.4 490.9,551.8 503.6,550.2 516.3,548.2 529.0,546.3 541.8,545.2 554.5,544.2 567.2,543.3 580.0,542.5 592.7,541.2 600.0,541.2 607.2,541.4 614.4,541.7 621.6,542.2 628.8,542.7 636.0,543.6 643.1,544.8 650.3,546.2 657.5,546.7 664.7,547.5 671.9,548.2 679.1,548.5 693.5,548.5 707.9,548.3 715.0,548.2 722.2,547.2 730.0,546.2 741.0,542.3 754.5,538.8 768.0,535.3 781.5,532.2 795.0,528.8 808.4,525.8 822.0,523.2 835.4,521.3 849.0,519.8 862.4,518.8 876.0,517.8 889.4,517.2 904.0,517.2" fill="none" stroke="#0000ff" stroke-width="1" stroke-linejoin="round" shape-rendering="crispEdges"/>
<polyline points="17.3,505.2 27.5,510.2 38.4,510.7 49.4,510.7 59.3,510.2 69.5,512.2 80.4,516.3 91.0,522.2 101.5,530.3 111.7,535.6 122.4,543.3 133.6,548.8 143.3,554.2 153.4,559.2 164.4,561.6 175.3,564.2 185.2,565.4 195.4,564.7 206.4,563.6 217.6,562.2 227.2,560.5 235.0,559.2 250.5,557.3 260.7,555.2 271.0,553.5 279.8,552.2 288.7,554.2 298.9,553.7 307.8,553.7 321.8,555.2 334.5,557.3 344.7,558.5 357.4,558.2 367.6,555.5 377.8,553.2 388.0,552.4 395.6,552.7 405.8,555.2 416.0,558.5 423.6,556.5 433.7,553.5 444.0,551.6 447.6,550.7 460.4,550.7 473.0,551.7 480.7,551.8 490.9,549.4 503.6,546.3 510.0,542.5 516.3,541.2 529.0,541.2 541.8,541.2 554.5,540.5 567.2,539.2 580.0,538.2 595.2,538.2 600.0,538.8 607.2,541.7 614.4,543.2 621.6,545.2 628.8,546.4 636.0,548.2 643.1,549.8 650.3,551.5 657.5,552.8 663.3,553.5 670.5,553.4 677.7,552.2 686.3,550.3 693.5,549.3 700.7,548.2 707.9,547.2 715.0,545.7 722.2,543.8 730.0,542.2 732.9,540.7 741.0,536.8 751.8,532.6 762.6,528.2 773.4,524.2 784.0,521.3 795.0,519.2 805.7,517.2 816.5,515.8 827.3,515.2 843.5,514.3 859.7,514.3 870.5,515.2 886.7,515.8 904.0,516.7" fill="none" stroke="#000" stroke-width="1" stroke-linejoin="round" shape-rendering="crispEdges"/>
<polyline points="59.5,37.5 66,38 79,42" fill="none" stroke="#0000ff" stroke-width="1"/>
<polyline points="637,408.5 647,405.3 657,403.7" fill="none" stroke="#0000ff" stroke-width="1"/>
<polygon points="544.5,199.7 700,224.3 873.8,253 874.2,249 888.8,258.6 871,264.8 872,261.2 544.5,201.3" fill="#ff0000"/>
<polygon points="816.8,418.2 719,527 714.8,525.2 710,542.5 727.4,535.1 724.7,532.7" fill="#ff0000"/>
<path shape-rendering="crispEdges" fill="#000" d="M676,34h7v1h-7zM677,35h5v1h-5zM678,36h3v1h-3zM679,37h1v1h-1z"/>
<g shape-rendering="crispEdges">
<rect x="3" y="0" width="9" height="1" fill="#808000"/><rect x="26" y="0" width="9" height="1" fill="#808000"/>
<rect x="73" y="0" width="1" height="1" fill="#000"/>
<rect x="74" y="1" width="5" height="1" fill="#000"/>
<rect x="79" y="0" width="1" height="1" fill="#000"/>
<rect x="92" y="0" width="1" height="2" fill="#000"/>
<rect x="95" y="0" width="1" height="1" fill="#000"/>
<rect x="98" y="0" width="1" height="2" fill="#000"/>
<rect x="100" y="0" width="1" height="1" fill="#555"/>
<rect x="102" y="0" width="1" height="2" fill="#000"/>
<rect x="105" y="0" width="1" height="2" fill="#000"/>
<rect x="119" y="0" width="1" height="1" fill="#000"/>
<rect x="120" y="1" width="6" height="1" fill="#000"/>
<rect x="126" y="0" width="1" height="1" fill="#000"/>
<rect x="165" y="0" width="1" height="2" fill="#000"/>
<rect x="168" y="0" width="1" height="2" fill="#000"/>
<rect x="185" y="0" width="1" height="1" fill="#000"/>
<rect x="191" y="0" width="1" height="1" fill="#777"/>
<rect x="193" y="0" width="1" height="1" fill="#777"/>
<rect x="195" y="0" width="1" height="1" fill="#777"/>
<rect x="214" y="0" width="1" height="2" fill="#f00"/>
<rect x="237" y="0" width="1" height="1" fill="#f00"/>
<rect x="252" y="0" width="1" height="1" fill="#f00"/>
<rect x="260" y="0" width="1" height="1" fill="#088"/>
<rect x="267" y="0" width="1" height="1" fill="#f00"/>
<rect x="279" y="0" width="1" height="1" fill="#000"/>
<rect x="284" y="0" width="1" height="1" fill="#000"/>
<rect x="304" y="0" width="1" height="2" fill="#f00"/>
<rect x="309" y="0" width="1" height="2" fill="#f00"/>
<rect x="325" y="0" width="2" height="1" fill="#f00"/>
<rect x="328" y="0" width="2" height="1" fill="#f00"/>
<rect x="331" y="0" width="2" height="1" fill="#f00"/>
<rect x="345" y="0" width="2" height="1" fill="#000"/>
<rect x="349" y="0" width="2" height="1" fill="#000"/>
<rect x="353" y="0" width="2" height="1" fill="#000"/>
<rect x="358" y="0" width="2" height="1" fill="#000"/>
<rect x="375" y="0" width="1" height="2" fill="#000"/>
<rect x="389" y="0" width="1" height="5" fill="#aca899"/>
<rect x="391" y="0" width="1" height="5" fill="#fff"/>
<rect x="394" y="0" width="1" height="3" fill="#999"/>
<rect x="406" y="0" width="1" height="2" fill="#999"/>
<rect x="409" y="0" width="1" height="1" fill="#999"/>
<rect x="412" y="0" width="1" height="1" fill="#999"/>
<rect x="415" y="0" width="1" height="2" fill="#999"/>
<rect x="424" y="0" width="8" height="2" fill="#c00000"/>
<rect x="447" y="0" width="4" height="2" fill="#808"/>
<rect x="451" y="1" width="10" height="1" fill="#000"/>
<rect x="475" y="0" width="1" height="2" fill="#f0f"/>
<rect x="480" y="0" width="1" height="2" fill="#f00"/>
<rect x="483" y="0" width="1" height="2" fill="#f00"/>
<rect x="485" y="0" width="1" height="1" fill="#f00"/>
<rect x="493" y="0" width="8" height="2" fill="#000"/>
<rect x="515" y="0" width="1" height="1" fill="#777"/>
<rect x="518" y="0" width="1" height="1" fill="#777"/>
<rect x="521" y="0" width="1" height="1" fill="#777"/>
<rect x="524" y="0" width="1" height="1" fill="#777"/>
<rect x="527" y="0" width="1" height="1" fill="#777"/>
<rect x="530" y="0" width="1" height="1" fill="#777"/>
<rect x="541" y="0" width="2" height="1" fill="#e00"/>
<rect x="544" y="0" width="2" height="1" fill="#e00"/>
<rect x="547" y="0" width="2" height="1" fill="#e00"/>
<rect x="550" y="0" width="2" height="1" fill="#e00"/>
<rect x="563" y="0" width="12" height="2" fill="#000"/>
<rect x="586" y="0" width="1" height="1" fill="#000"/>
<rect x="591" y="0" width="2" height="1" fill="#000"/>
<rect x="597" y="0" width="1" height="1" fill="#888"/>
<rect x="606" y="0" width="1" height="5" fill="#aca899"/>
<rect x="608" y="0" width="1" height="5" fill="#fff"/>
<rect x="611" y="0" width="1" height="3" fill="#999"/>
<rect x="620" y="0" width="13" height="2" fill="#000"/>
<rect x="642" y="0" width="3" height="2" fill="#f00"/>
<rect x="647" y="0" width="2" height="1" fill="#f00"/>
<rect x="650" y="0" width="2" height="2" fill="#f00"/>
<rect x="654" y="0" width="2" height="1" fill="#f00"/>
<rect x="687" y="1" width="15" height="1" fill="#000"/>
<rect x="715" y="0" width="1" height="1" fill="#888"/>
<rect x="716" y="1" width="5" height="1" fill="#888"/>
<rect x="721" y="0" width="1" height="1" fill="#888"/>
<rect x="733" y="1" width="15" height="1" fill="#000"/>
<rect x="758" y="0" width="2" height="2" fill="#000"/>
<rect x="762" y="0" width="1" height="2" fill="#000"/>
<rect x="779" y="1" width="16" height="1" fill="#f00"/>
<rect x="788" y="0" width="1" height="1" fill="#400"/>
<rect x="802" y="1" width="16" height="1" fill="#f00"/>
<rect x="826" y="1" width="14" height="1" fill="#000"/>
<rect x="849" y="1" width="14" height="1" fill="#000"/>
<rect x="872" y="1" width="14" height="1" fill="#000"/>
<rect x="895" y="1" width="9" height="1" fill="#000"/>
</g>
<text x="13.3" y="32" font-size="12.5" fill="#000" font-family="&quot;Liberation Sans&quot;, &quot;Noto Sans CJK SC&quot;, sans-serif">移动均线</text>
<text x="749 781 813 845 877" y="551.5" font-size="27" fill="#e60000" font-family="&quot;Liberation Serif&quot;, &quot;Noto Serif CJK SC&quot;, serif">赢家财富网</text>
</svg>
<div class="t d" style="left:13.7px">03-09</div>
<div class="t d" style="left:77.5px">03-18</div>
<div class="t d" style="left:150.7px">03-27</div>
<div class="t d" style="left:297.3px">04-16</div>
<div class="t d" style="left:371.6px">04-27</div>
<div class="t d" style="left:445px">05-06</div>
<div class="t d" style="left:518px">05-15</div>
<div class="t d" style="left:591.6px">05-26</div>
<div class="t d" style="left:665.8px">06-04</div>
<div class="t d" style="left:738.6px">06-13</div>
<div class="t d" style="left:812px">06-24</div>
<div class="t d" style="left:885.7px">07-0</div>
<div class="t" style="left:200.3px;top:7px;font-size:12px;color:#fff;letter-spacing:-0.8px">2014-04-06</div>
<div class="t m" style="left:84px;color:#0000ff;width:75px">Ma150=20.7846</div>
<div class="t m" style="left:162.6px;color:#ff0000;width:78px">Ma10=19.8493</div>
<div class="t m" style="left:241.6px;color:#ff00ff;width:78px">Ma20=20.3218</div>
<div class="t m" style="left:320.6px;color:#000;width:78px">Ma30=20.6358</div>
<div class="t m" style="left:399.6px;color:#008000;width:78px">Ma60=20.4872</div>
<div class="t p" style="left:79.8px;top:44px">21.7915</div>
<div class="t p" style="left:657px;top:397px">18.6315</div>
<div class="t k" style="left:18.6px;color:#000">DIF=-0.28</div>
<div class="t k" style="left:89px;color:#0000ff">DEA=-0.25</div>
<div class="t k" style="left:160.8px;color:#ff00ff">MACD=-0.06</div>
<div class="t a" style="top:397px;left:-1.5px">15</div>
<div class="t a" style="top:422px;left:-1.2px">27</div>
<div class="t a" style="top:438px;left:-2.2px">34</div>
<div class="t a" style="top:454px;left:-2px">42</div>
<div class="t a" style="top:495px;left:-1.5px">26</div>
<div class="t a" style="top:512px;left:-1.5px">11</div>
<div class="t a" style="top:530px;left:-3px">05</div>
<div class="t a" style="top:548px;left:-3px">21</div>
</body></html>
